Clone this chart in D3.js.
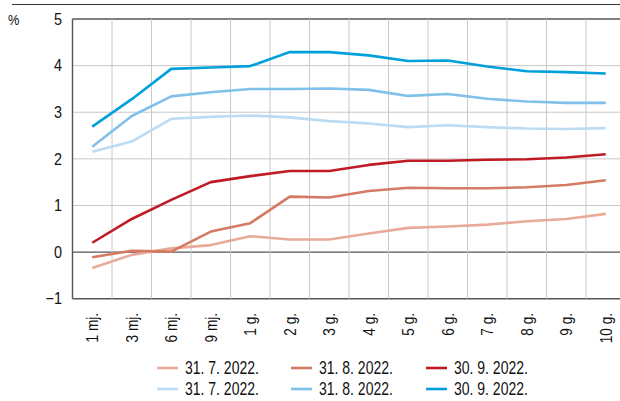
<!DOCTYPE html>
<html>
<head>
<meta charset="utf-8">
<script src="https://cdn.jsdelivr.net/npm/d3@7"></script>
<style>
  body { margin: 0; background: #fff; }
  svg { display: block; font-family: "Liberation Sans Narrow", "Arial Narrow", "Liberation Sans", sans-serif; }
</style>
</head>
<body>
<div class="sandbox"></div>
<script>
var categories = ["1 mj.", "3 mj.", "6 mj.", "9 mj.", "1 g.", "2 g.", "3 g.", "4 g.", "5 g.", "6 g.", "7 g.", "8 g.", "9 g.", "10 g."];
var yTicks = [-1, 0, 1, 2, 3, 4, 5];

var red0731 = [-0.34, -0.06, 0.08, 0.15, 0.34, 0.27, 0.27, 0.40, 0.52, 0.55, 0.59, 0.66, 0.71, 0.82];
var red0831 = [-0.11, 0.03, 0.01, 0.44, 0.62, 1.19, 1.17, 1.31, 1.38, 1.37, 1.37, 1.39, 1.44, 1.54];
var red0930 = [0.20, 0.71, 1.12, 1.50, 1.63, 1.74, 1.74, 1.87, 1.96, 1.96, 1.98, 1.99, 2.03, 2.10];
var blue0731 = [2.15, 2.37, 2.86, 2.90, 2.93, 2.89, 2.81, 2.76, 2.68, 2.72, 2.68, 2.65, 2.64, 2.66];
var blue0831 = [2.26, 2.92, 3.34, 3.43, 3.50, 3.50, 3.51, 3.48, 3.35, 3.39, 3.29, 3.23, 3.20, 3.20];
var blue0930 = [2.69, 3.28, 3.93, 3.96, 3.99, 4.29, 4.29, 4.22, 4.10, 4.11, 3.98, 3.88, 3.86, 3.83];

var seriesNames = ["31. 7. 2022.", "31. 8. 2022.", "30. 9. 2022.", "31. 7. 2022.", "31. 8. 2022.", "30. 9. 2022."];
var seriesColors = ["#e9ab99", "#d57a63", "#c01b25", "#bcdcf4", "#80c0ea", "#00a0dc"];

var series = [red0731, red0831, red0930, blue0731, blue0831, blue0930].map(function(v, i) {
  return { name: seriesNames[i], color: seriesColors[i], values: v };
});

var w = 620, h = 401;
var svg = d3.select(".sandbox").append("svg").attr("width", w).attr("height", h);

var x = d3.scaleBand().domain(categories).range([72.5, 625.5]);
var y = d3.scaleLinear().domain([-1, 5]).range([298.7, 19]);

// top rule
svg.append("line").attr("x1", 12).attr("x2", w).attr("y1", 4.5).attr("y2", 4.5)
  .attr("stroke", "#333").attr("stroke-width", 1.2);

// horizontal grid
svg.append("g").selectAll("line").data(yTicks).enter().append("line")
  .attr("x1", 72.5).attr("x2", 625.5)
  .attr("y1", d => y(d)).attr("y2", d => y(d))
  .attr("stroke", d => d === 0 || d === 5 || d === -1 ? "#555" : "#c8c8c8")
  .attr("stroke-width", d => d === 0 || d === 5 || d === -1 ? 1.4 : 1);

// vertical grid at band edges
svg.append("g").selectAll("line").data(categories.slice(1)).enter().append("line")
  .attr("x1", d => x(d)).attr("x2", d => x(d))
  .attr("y1", y(5)).attr("y2", y(-1))
  .attr("stroke", "#c8c8c8").attr("stroke-width", 1);

// left axis line
svg.append("line").attr("x1", 72.5).attr("x2", 72.5).attr("y1", y(5)).attr("y2", y(-1))
  .attr("stroke", "#555").attr("stroke-width", 1.4);

// y tick labels
svg.append("g").selectAll("text").data(yTicks).enter().append("text")
  .attr("transform", d => "translate(62," + y(d) + ") scale(0.9,1)")
  .attr("dy", "0.36em")
  .attr("text-anchor", "end").attr("font-size", 16).attr("fill", "#111")
  .text(d => d < 0 ? "\u2212" + Math.abs(d) : d);

svg.append("text").attr("transform", "translate(8,25) scale(0.85,1)")
  .attr("font-size", 15).attr("fill", "#111").text("%");

// x labels rotated
svg.append("g").selectAll("text").data(categories).enter().append("text")
  .attr("transform", d => "translate(" + (x(d) + x.bandwidth() / 2 + 6) + ",313) rotate(-90) scale(0.85,1)")
  .attr("text-anchor", "end").attr("font-size", 16).attr("fill", "#111")
  .text(d => d);

// lines
var line = d3.line()
  .x((d, i) => x(categories[i]) + x.bandwidth() / 2)
  .y(d => y(d));

svg.append("g").selectAll("path").data(series).enter().append("path")
  .attr("d", d => line(d.values))
  .attr("fill", "none").attr("stroke", d => d.color)
  .attr("stroke-width", 2.6).attr("stroke-linejoin", "round");

// legend
var legX = [157, 291, 426], legY = [368, 389];
var lg = svg.append("g").selectAll("g").data(series).enter().append("g")
  .attr("transform", (d, i) => "translate(" + legX[i % 3] + "," + legY[Math.floor(i / 3)] + ")");
lg.append("line").attr("x1", 0).attr("x2", 21).attr("y1", 0).attr("y2", 0)
  .attr("stroke", d => d.color).attr("stroke-width", 2.6);
lg.append("text").attr("transform", "translate(28,0) scale(0.8,1)").attr("dy", "0.36em")
  .attr("font-size", 17.5).attr("fill", "#111").text(d => d.name);
</script>
</body>
</html>
